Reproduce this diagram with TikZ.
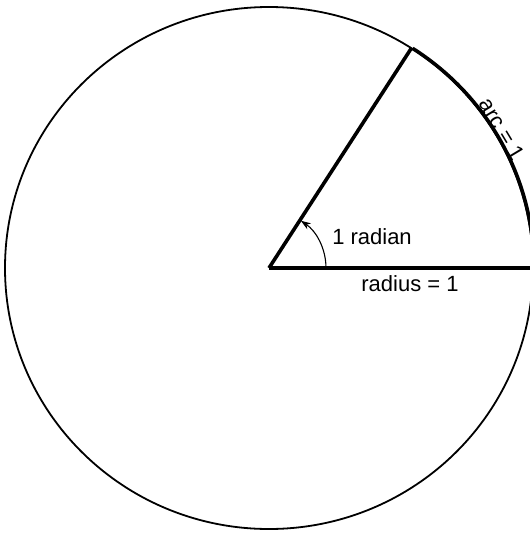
\documentclass[tikz,border=0pt]{standalone}
\usepackage{fontspec}
\setmainfont{Liberation Sans}
\usetikzlibrary{arrows.meta}
\tikzset{
  lbl/.style={font=\fontsize{22}{26}\selectfont, inner sep=0pt},
  thin line/.style={line width=1.8pt},
  thick line/.style={line width=3.6pt},
}
\begin{document}
\begin{tikzpicture}[x=1pt,y=-1pt]
\useasboundingbox (0,0) rectangle (530,533);
\coordinate (O) at (269,268);
\coordinate (R) at (534,268);
\coordinate (A) at (411.5,48);
% circle
\draw[thin line] (O) ellipse [x radius=264pt, y radius=261pt];
% thick arc of length 1
\draw[thick line] (R) arc [start angle=0, end angle=57.3, x radius=264pt, y radius=261pt];
% radii
\draw[thick line] (O) -- (R);
\draw[thick line] (O) -- (A);
% angle arc
\draw[line width=1.1pt, -{Stealth[length=10pt,width=7pt]}] ([xshift=57pt]O) arc [start angle=0, end angle=56, radius=57pt];
% labels
\node[lbl] (rad) at (372,237) {1 radian};
\node[lbl] (rlen) at (410,284) {radius = 1};
\node[lbl, rotate=-59] (alen) at (502,129) {arc = 1};
\end{tikzpicture}
\end{document}
